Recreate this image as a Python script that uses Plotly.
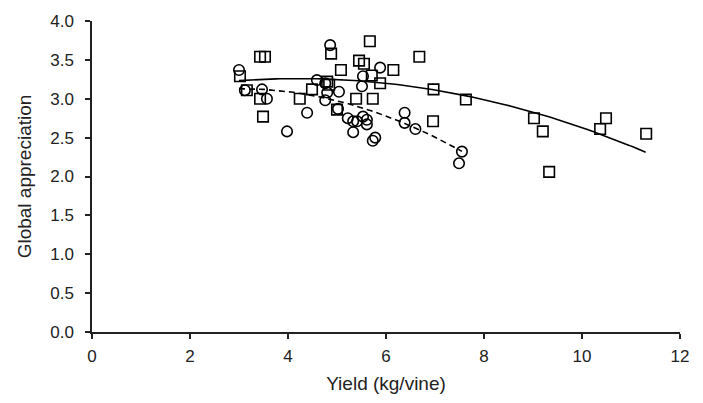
import numpy as np
import plotly.graph_objects as go

# Squares series
sq_x = [3.02, 3.16, 3.43, 3.53, 3.43, 3.49, 4.24, 4.49, 4.80, 4.84, 4.88, 5.00, 5.08, 5.39, 5.45,
        5.55, 5.67, 5.71, 5.73, 5.88, 6.15, 6.68, 6.97, 6.96, 7.63, 9.02, 9.20, 9.33, 10.37, 10.49, 11.31]
sq_y = [3.29, 3.11, 3.54, 3.54, 3.00, 2.77, 3.00, 3.12, 3.22, 3.18, 3.58, 2.86, 3.37, 3.00, 3.49,
        3.45, 3.74, 3.30, 3.00, 3.20, 3.37, 3.54, 3.12, 2.71, 2.99, 2.75, 2.58, 2.06, 2.61, 2.75, 2.55]

# Circles series
ci_x = [3.00, 3.12, 3.47, 3.57, 3.98, 4.39, 4.59, 4.76, 4.80, 4.76, 4.86, 5.04, 5.02, 5.22, 5.33,
        5.41, 5.53, 5.51, 5.53, 5.33, 5.61, 5.61, 5.73, 5.78, 5.88, 6.38, 6.38, 6.60, 7.55, 7.49]
ci_y = [3.37, 3.11, 3.12, 3.00, 2.58, 2.82, 3.24, 3.20, 3.08, 2.98, 3.69, 3.09, 2.87, 2.75, 2.71,
        2.71, 3.29, 3.16, 2.77, 2.57, 2.67, 2.73, 2.46, 2.50, 3.40, 2.82, 2.69, 2.61, 2.32, 2.17]

# Quadratic trend coefficients (a*x^2 + b*x + c)
sq_fit = [-0.0188, 0.158, 2.928]
ci_fit = [-0.039, 0.234, 2.779]
sq_fit_range = [3.0, 11.3]
ci_fit_range = [3.0, 7.55]

x_ticks = [0, 2, 4, 6, 8, 10, 12]
y_ticks = [0.0, 0.5, 1.0, 1.5, 2.0, 2.5, 3.0, 3.5, 4.0]

fig = go.Figure()

xs = np.linspace(sq_fit_range[0], sq_fit_range[1], 100)
fig.add_trace(go.Scatter(x=xs, y=np.polyval(sq_fit, xs), mode="lines",
                         line=dict(color="black", width=1.6), showlegend=False))
xc = np.linspace(ci_fit_range[0], ci_fit_range[1], 100)
fig.add_trace(go.Scatter(x=xc, y=np.polyval(ci_fit, xc), mode="lines",
                         line=dict(color="black", width=1.6, dash="6px,4px"), showlegend=False))

fig.add_trace(go.Scatter(x=sq_x, y=sq_y, mode="markers",
                         marker=dict(symbol="square-open", size=10.5, color="black",
                                     line=dict(width=1.6, color="black")), showlegend=False))
fig.add_trace(go.Scatter(x=ci_x, y=ci_y, mode="markers",
                         marker=dict(symbol="circle-open", size=10.5, color="black",
                                     line=dict(width=1.6, color="black")), showlegend=False))

font = dict(family="Liberation Sans, Arial, sans-serif", size=17, color="#222")
fig.update_layout(
    width=703, height=403,
    margin=dict(l=92, r=23, t=16, b=65),
    paper_bgcolor="white", plot_bgcolor="white",
    font=font,
    xaxis=dict(range=[0, 12], tickvals=x_ticks, ticktext=[str(v) for v in x_ticks],
               showgrid=False, zeroline=False, showline=True, linecolor="#222", linewidth=1.5,
               ticks="outside", ticklen=5, tickwidth=1.5, tickcolor="#222",
               ticklabelstandoff=3,
               title=dict(text="Yield (kg/vine)", font=dict(size=19), standoff=12)),
    yaxis=dict(range=[0, 4], tickvals=y_ticks, ticktext=[f"{v:.1f}" for v in y_ticks],
               showgrid=False, zeroline=False, showline=True, linecolor="#222", linewidth=1.5,
               ticks="outside", ticklen=5, tickwidth=1.5, tickcolor="#222",
               ticklabelstandoff=8,
               title=dict(text="Global appreciation", font=dict(size=19), standoff=14)),
)

fig.write_html("out.html")
